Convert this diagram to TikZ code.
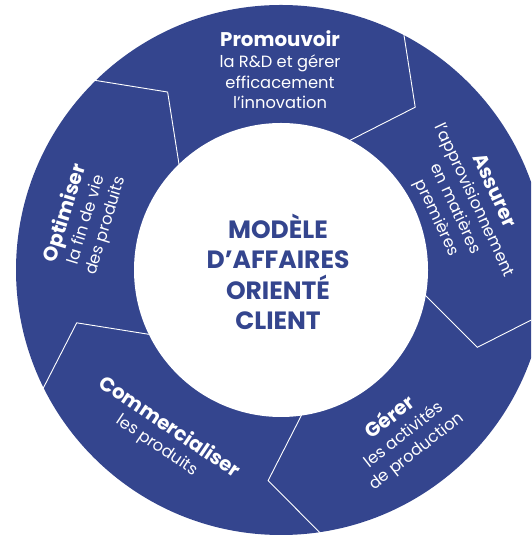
\documentclass[tikz,border=0pt]{standalone}
\usepackage{fontspec}
\setmainfont{Poppins}
\usetikzlibrary{calc}
\definecolor{ringblue}{RGB}{52,69,142}
\newcommand{\segtitle}[1]{{\fontsize{19.8}{21}\selectfont\bfseries #1}}
\begin{document}
\begin{tikzpicture}[x=1pt,y=1pt,
  ringtext/.style={text=white, align=center, inner sep=0pt,
    font=\fontsize{16.3}{20.7}\selectfont},
  hub/.style={text=ringblue, align=center, inner sep=0pt,
    font=\fontsize{25}{30.5}\selectfont\bfseries},
  divider/.style={draw=white, line width=0.9pt, line join=miter}]
\useasboundingbox (0,0) rectangle (531,537);
\coordinate (c) at (281,267);
\begin{scope}
  \clip (0,0) rectangle (531,537);
  % blue ring
  \fill[ringblue] (c) circle[radius=265];
  % chevron-shaped separators between the five stages
  \foreach \a in {134.5,62.5,-9.5,-81.5,-153.5}
    \draw[divider] ($(c)+(\a:266)$) -- ($(c)+(\a-12:211)$) -- ($(c)+(\a:145)$);
  % hub
  \fill[white] (c) circle[radius=147];
\end{scope}

\node[hub] (hubtext) at (278,265) {MODÈLE\\D’AFFAIRES\\ORIENTÉ\\CLIENT};

\node[ringtext] (promouvoir) at (280,467)
  {\segtitle{Promouvoir}\\la R\&D et gérer\\efficacement\\l’innovation};
\node[ringtext, rotate=-65] (assurer) at (465,332.5)
  {\segtitle{Assurer}\\l’approvisionnement\\en matières\\premières};
\node[ringtext, rotate=38] (gerer) at (403,103)
  {\segtitle{Gérer}\\les activités\\de production};
\node[ringtext, rotate=-34] (commercialiser) at (163.5,101)
  {\segtitle{Commercialiser}\\les produits};
\node[ringtext, rotate=73] (optimiser) at (85,317.5)
  {\segtitle{Optimiser}\\la fin de vie\\des produits};
\end{tikzpicture}
\end{document}
